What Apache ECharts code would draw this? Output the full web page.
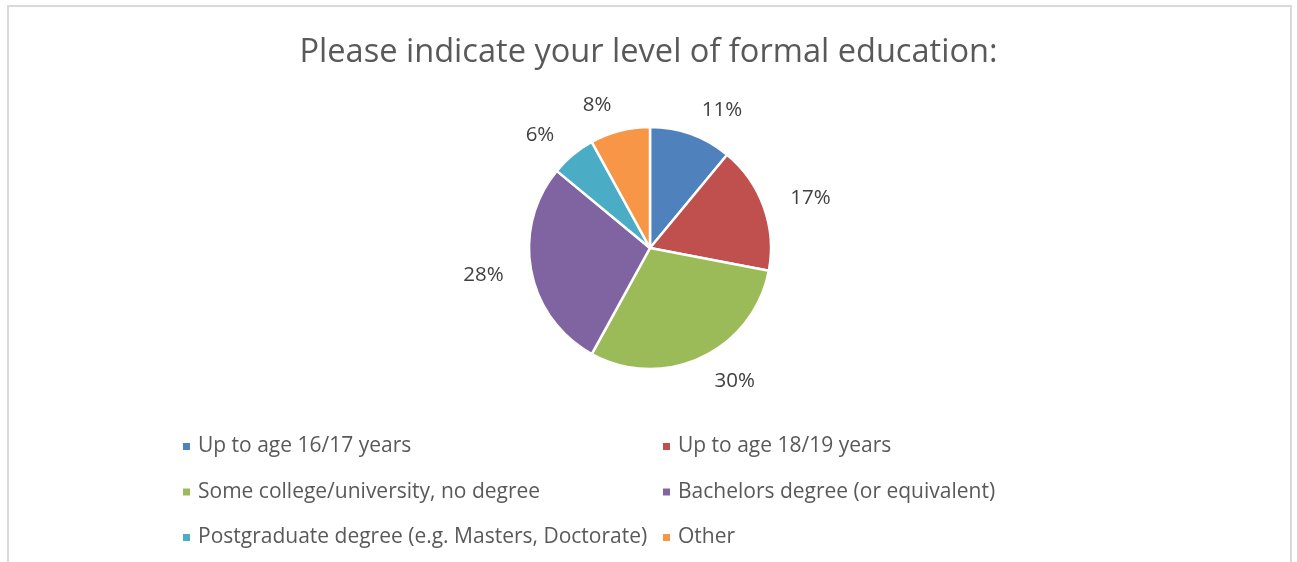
<!DOCTYPE html>
<html>
<head>
<meta charset="utf-8">
<script src="https://cdn.jsdelivr.net/npm/echarts@6/dist/echarts.min.js"></script>
<style>
  html, body { margin: 0; padding: 0; background: #ffffff; }
  #chart { width: 1297px; height: 562px; }
</style>
</head>
<body>
<div id="chart"></div>
<script>
// Survey answers: highest level of formal education (share of respondents, %)
const categories = [
  'Up to age 16/17 years',
  'Up to age 18/19 years',
  'Some college/university, no degree',
  'Bachelors degree (or equivalent)',
  'Postgraduate degree (e.g. Masters, Doctorate)',
  'Other'
];
const shares = [11, 17, 30, 28, 6, 8];
const sliceColors = ['#4F81BD', '#C0504D', '#9BBB59', '#8064A2', '#4BACC6', '#F79646'];

// Legend columns (left column / right column)
const legendLeft = [categories[0], categories[2], categories[4]];
const legendRight = [categories[1], categories[3], categories[5]];

const FONT = '"Open Sans"';
const pieData = categories.map((name, i) => ({ name, value: shares[i] }));

const chart = echarts.init(document.getElementById('chart'), null, { renderer: 'canvas' });

const legendCommon = {
  orient: 'vertical',
  top: 435.5,
  padding: 0,
  icon: 'rect',
  itemWidth: 9,
  itemHeight: 9,
  itemGap: 23.5,
  selectedMode: false,
  textStyle: {
    fontFamily: FONT,
    fontSize: 21,
    color: '#595959',
    lineHeight: 22,
    padding: [0, 0, 0, 2]
  }
};

chart.setOption({
  backgroundColor: '#ffffff',
  color: sliceColors,
  animation: false,
  title: {
    text: 'Please indicate your level of formal education:',
    left: 'center',
    top: 31,
    textStyle: {
      fontFamily: FONT,
      fontSize: 32.6,
      fontWeight: 'normal',
      color: '#595959'
    }
  },
  legend: [
    Object.assign({ left: 181, data: legendLeft }, legendCommon),
    Object.assign({ left: 661, data: legendRight }, legendCommon)
  ],
  graphic: [{
    type: 'rect',
    silent: true,
    shape: { x: 8, y: 6, width: 1283, height: 600 },
    style: { fill: 'none', stroke: '#d9d9d9', lineWidth: 2 }
  }],
  series: [{
    name: 'Education',
    type: 'pie',
    center: [650, 248],
    radius: 121,
    startAngle: 90,
    clockwise: true,
    avoidLabelOverlap: false,
    label: {
      show: true,
      position: 'outside',
      formatter: '{c}%',
      fontFamily: FONT,
      fontSize: 20.5,
      color: '#404040',
      distanceToLabelLine: 2
    },
    labelLine: { show: false, length: 26, length2: 0 },
    itemStyle: { borderColor: '#ffffff', borderWidth: 2.5 },
    emphasis: { scale: false },
    data: pieData
  }]
});
</script>
</body>
</html>
